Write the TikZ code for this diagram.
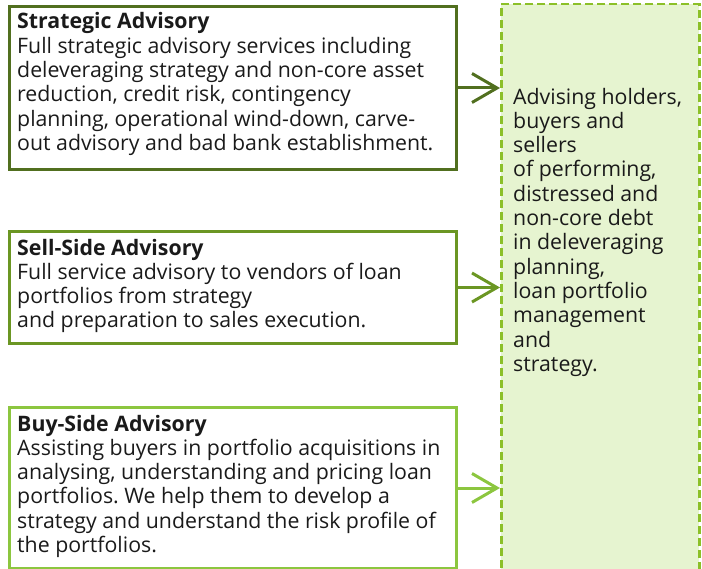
\documentclass[tikz,border=0pt]{standalone}
\usepackage{fontspec}
\setmainfont{Open Sans}
\usetikzlibrary{arrows.meta}
\frenchspacing
\definecolor{gDark}{HTML}{516F1F}
\definecolor{gMid}{HTML}{6B9623}
\definecolor{gLight}{HTML}{8CC63F}
\definecolor{gDash}{HTML}{8CC028}
\definecolor{gFill}{HTML}{E6F4D0}
\definecolor{txt}{HTML}{1A1A1A}
\tikzset{
  box/.style={draw=#1, line width=3pt, rectangle, anchor=north west, inner sep=0pt, minimum width=447pt},
  body/.style={anchor=base west, inner sep=0pt, align=left, text=txt,
    font=\fontsize{21.3pt}{24.3pt}\selectfont},
  arr/.style={draw=#1, line width=3pt, -{Straight Barb[length=25pt,width=29pt]}},
}
\begin{document}
\begin{tikzpicture}[x=1pt,y=-1pt]
\useasboundingbox (0,0) rectangle (702,569);
\node (g) [draw=gDash, fill=gFill, line width=2.5pt, dash pattern=on 8pt off 4pt,
  rectangle, anchor=north west, minimum width=198pt, minimum height=572pt, inner sep=0pt] at (500,3) {};
\node (b1) [box=gDark, minimum height=163pt] at (8,5) {};
\node (b2) [box=gMid, minimum height=112pt] at (8,230) {};
\node (b3) [box=gLight, minimum height=161pt] at (8,406) {};
% base anchor = baseline of the last line
\node (t1) [body] at (17,150.5) {\textbf{Strategic Advisory}\\Full strategic advisory services including\\deleveraging strategy and non-core asset\\reduction, credit risk, contingency\\planning, operational wind-down, carve-\\out advisory and bad bank establishment.};
\node (t2) [body] at (17,328) {\textbf{Sell-Side Advisory}\\Full service advisory to vendors of loan\\portfolios from strategy\\and preparation to sales execution.};
\node (t3) [body] at (17,552.5) {\textbf{Buy-Side Advisory}\\Assisting buyers in portfolio acquisitions in\\analysing, understanding and pricing loan\\portfolios. We help them to develop a\\strategy and understand the risk profile of\\the portfolios.};
\node (tg) [body] at (513,371.3) {Advising holders,\\buyers and\\sellers\\of performing,\\distressed and\\non-core debt\\in deleveraging\\planning,\\loan portfolio\\management\\and\\strategy.};
\draw[arr=gDark] (b1.east) -- (b1.east -| g.west);
\draw[arr=gMid] (b2.east) -- (b2.east -| g.west);
\draw[arr=gLight] (b3.east) -- (b3.east -| g.west);
\end{tikzpicture}
\end{document}
